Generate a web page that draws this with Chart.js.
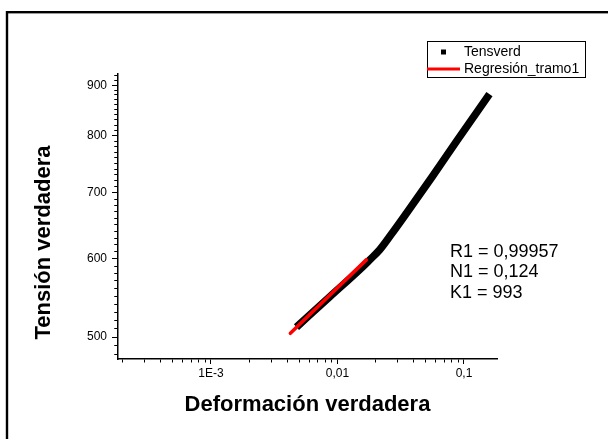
<!DOCTYPE html>
<html>
<head>
<meta charset="utf-8">
<script src="https://cdn.jsdelivr.net/npm/chart.js@4.4.1/dist/chart.umd.min.js"></script>
<style>
  html, body { margin: 0; padding: 0; background: #fff; }
  canvas { display: block; }
</style>
</head>
<body>
<canvas id="chartLogLog" width="608" height="439"></canvas>
<script>
// curva tension verdadera - deformacion verdadera, ejes log-log
const strain = [0.00474, 0.00865, 0.01576, 0.0179, 0.02148, 0.02673, 0.0351, 0.0564, 0.0872, 0.159];
const stress = [511.7, 549, 588.9, 598.4, 612.6, 635.9, 667.6, 727.8, 789.3, 881.6];

// recta de regresion del tramo 1 (K1 = 993, N1 = 0,124)
const regStrain = [0.00424, 0.0169];
const regStress = [504.4, 598.7];

const xMajorTicks = [0.001, 0.01, 0.1];
const xTickLabels = ['1E-3', '0,01', '0,1'];
const yMajorTicks = [500, 600, 700, 800, 900];
const yTickLabels = ['500', '600', '700', '800', '900'];
const fitLines = ['R1 = 0,99957', 'N1 = 0,124', 'K1 = 993'];

const FONT = "'Liberation Sans', Arial, sans-serif";

function toPoints(xs, ys){
    return xs.map((x, i) => ({x: x, y: ys[i]}));
}

function findTick(list, v){
    return list.findIndex(t => Math.abs(t - v) / t < 1e-6);
}

function xTickValues(min, max){
    const out = [];
    for(let e = -4; e <= 0; e++){
        for(let m = 1; m <= 9; m++){
            const v = m * Math.pow(10, e);
            if(v >= min && v <= max) out.push(v);
        }
    }
    return out;
}

function yTickValues(min, max){
    const out = [];
    for(let v = 480; v <= max; v += 10){
        if(v >= min) out.push(v);
    }
    return out;
}

// marco exterior, titulo vertical, leyenda y parametros del ajuste
const decorPlugin = {
    id: 'decor',
    afterDraw(chart){
        const ctx = chart.ctx;
        ctx.save();

        ctx.strokeStyle = '#000';
        ctx.lineWidth = 2.4;
        ctx.strokeRect(7, 12.2, 700, 600);

        ctx.fillStyle = '#000';
        ctx.font = 'bold 22px ' + FONT;
        ctx.textAlign = 'center';
        ctx.textBaseline = 'middle';
        ctx.translate(44, 242.5);
        ctx.rotate(-Math.PI / 2);
        ctx.fillText('Tensión verdadera', 0, 0);
        ctx.setTransform(1, 0, 0, 1, 0, 0);

        // leyenda
        const ds = chart.data.datasets;
        ctx.lineWidth = 1;
        ctx.strokeStyle = '#000';
        ctx.strokeRect(427.5, 41.5, 158, 36);
        ctx.fillStyle = ds[0].borderColor;
        ctx.fillRect(441, 49.5, 5, 5);
        ctx.strokeStyle = ds[1].borderColor;
        ctx.lineWidth = 3;
        ctx.beginPath();
        ctx.moveTo(427, 69);
        ctx.lineTo(460, 69);
        ctx.stroke();
        ctx.fillStyle = '#000';
        ctx.font = '14px ' + FONT;
        ctx.textAlign = 'left';
        ctx.fillText(ds[0].label, 464, 52.5);
        ctx.fillText(ds[1].label, 464, 69.5);

        ctx.font = '18px ' + FONT;
        fitLines.forEach((t, i) => ctx.fillText(t, 450, 252 + i * 20.5));

        ctx.restore();
    }
};

const ctx = document.getElementById('chartLogLog').getContext('2d');

new Chart(ctx, {
    type: 'line',
    data: {
        datasets: [{
            label: 'Tensverd',
            data: toPoints(strain, stress),
            borderColor: '#000',
            backgroundColor: '#000',
            borderWidth: 7.5,
            borderCapStyle: 'butt',
            borderJoinStyle: 'round',
            cubicInterpolationMode: 'monotone',
            pointRadius: 0,
            fill: false,
            order: 2
        }, {
            label: 'Regresión_tramo1',
            data: toPoints(regStrain, regStress),
            borderColor: '#ff0000',
            backgroundColor: '#ff0000',
            borderWidth: 3.5,
            borderCapStyle: 'round',
            pointRadius: 0,
            fill: false,
            order: 1
        }]
    },
    options: {
        responsive: false,
        animation: false,
        layout: {
            padding: {left: 0, right: 111, top: 74, bottom: 0}
        },
        plugins: {
            legend: {display: false},
            tooltip: {enabled: false}
        },
        scales: {
            x: {
                type: 'logarithmic',
                position: 'bottom',
                min: 1.84e-4,
                max: 0.1824,
                afterBuildTicks: (scale) => {
                    scale.ticks = xTickValues(scale.min, scale.max).map(v => ({
                        value: v,
                        major: findTick(xMajorTicks, v) >= 0
                    }));
                },
                afterFit: (scale) => { scale.height = 80; },
                border: {display: true, color: '#000', width: 1.5},
                grid: {
                    drawOnChartArea: false,
                    drawTicks: true,
                    tickLength: 5,
                    tickColor: '#000',
                    tickWidth: 1,
                    tickBorderDash: (c) => findTick(xMajorTicks, c.tick.value) >= 0 ? [] : [3, 100],
                    tickBorderDashOffset: 0
                },
                ticks: {
                    autoSkip: false,
                    maxRotation: 0,
                    padding: 2,
                    color: '#000',
                    font: {family: FONT, size: 12},
                    callback: (v) => {
                        const i = findTick(xMajorTicks, v);
                        return i >= 0 ? xTickLabels[i] : '';
                    }
                },
                title: {
                    display: true,
                    text: 'Deformación verdadera',
                    color: '#000',
                    font: {family: FONT, size: 22, weight: 'bold'},
                    padding: {top: 0, bottom: 20.5}
                }
            },
            y: {
                type: 'logarithmic',
                position: 'left',
                min: 475,
                max: 924,
                afterBuildTicks: (scale) => {
                    scale.ticks = yTickValues(scale.min, scale.max).map(v => ({
                        value: v,
                        major: findTick(yMajorTicks, v) >= 0
                    }));
                },
                afterFit: (scale) => { scale.width = 118; },
                border: {display: true, color: '#000', width: 1.5},
                grid: {
                    drawOnChartArea: false,
                    drawTicks: true,
                    tickLength: 6,
                    tickColor: '#000',
                    tickWidth: 1,
                    tickBorderDash: (c) => findTick(yMajorTicks, c.tick.value) >= 0 ? [] : [3, 100],
                    tickBorderDashOffset: (c) => findTick(yMajorTicks, c.tick.value) >= 0 ? 0 : -2.25
                },
                ticks: {
                    autoSkip: false,
                    padding: 5,
                    color: '#000',
                    font: {family: FONT, size: 12},
                    callback: (v) => {
                        const i = findTick(yMajorTicks, v);
                        return i >= 0 ? yTickLabels[i] : '';
                    }
                }
            }
        }
    },
    plugins: [decorPlugin]
});
</script>
</body>
</html>
